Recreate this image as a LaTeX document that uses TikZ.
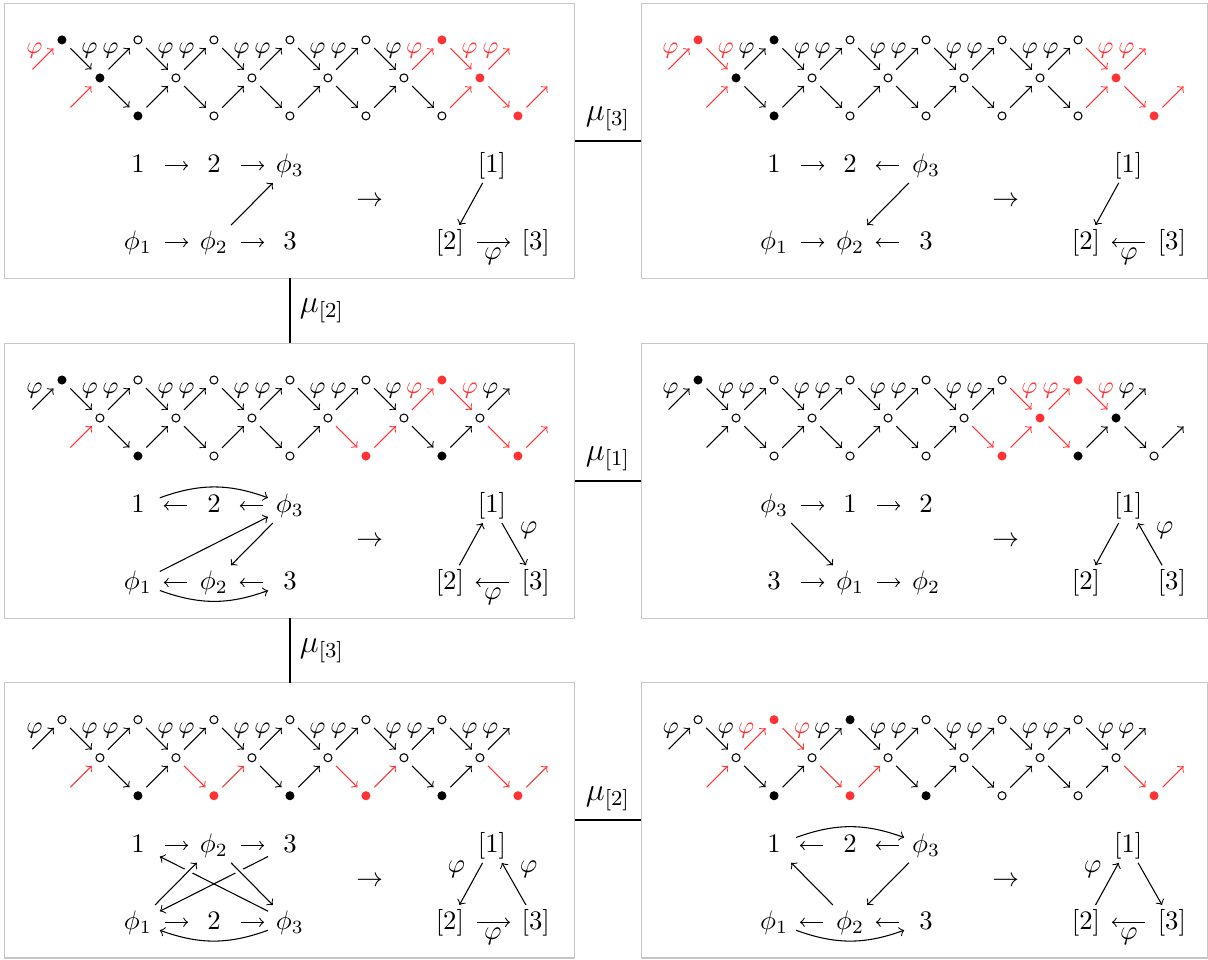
\documentclass[tikz,border=0pt]{standalone}
\usepackage{amssymb}
\usepackage{xcolor}
\usepackage{tikz}
\colorlet{hot}{red!80}

% AR-quiver: prefix, colour of the two entry arrows, vertex kinds k/top/mid/bot, arrow colours k/a/b/c/d
\newcommand{\arzigzag}[5]{%
  \node[vtx] (#1m-1) at (-1,-1) {};
  \node[vtx] (#1b-1) at (0,-2) {};
  \node[vtx] (#1t6) at (12,0) {};
  \node[vtx] (#1m6) at (13,-1) {};
  \foreach \k/\vt/\vm/\vb in {#4} {
    \node[\vt] (#1t\k) at (2*\k,0) {};
    \node[\vm] (#1m\k) at (2*\k+1,-1) {};
    \node[\vb] (#1b\k) at (2*\k+2,-2) {};
  }
  \draw[ar, #2] (#1m-1) -- node[lab] {$\varphi$} (#1t0);
  \draw[ar, #3] (#1b-1) -- (#1m0);
  \foreach \k/\ca/\cb/\cc/\cd in {#5} {
    \pgfmathtruncatemacro{\n}{\k+1}
    \draw[ar, \ca] (#1t\k) -- node[lab] {$\varphi$} (#1m\k);
    \draw[ar, \cb] (#1m\k) -- node[lab] {$\varphi$} (#1t\n);
    \draw[ar, \cc] (#1m\k) -- (#1b\k);
    \draw[ar, \cd] (#1b\k) -- (#1m\n);
  }
}

\begin{document}
\begin{tikzpicture}[
    >=to,
    x=0.5cm, y=0.5cm,
    panel/.style={draw=black!22, minimum height=3.62cm, inner sep=0pt, outer sep=0pt, anchor=north west},
    link/.style={thick},
    mlab/.style={font=\large},
    vtx/.style={circle, inner sep=0pt, minimum size=3.4pt},
    opn/.style={vtx, draw, minimum size=3pt},
    blk/.style={vtx, fill=black},
    rdd/.style={vtx, fill=hot},
    ar/.style={->, shorten <=2.6pt, shorten >=2.6pt},
    lab/.style={auto, font=\small, inner sep=0pt},
    cell/.style={minimum width=16pt, inner sep=2.5pt, text height=1.5ex, text depth=.25ex},
    hz/.style={->, shorten <=2pt, shorten >=1.5pt},
    cut/.style={preaction={draw=white, line width=3pt, -}},
    flab/.style={inner sep=2pt}
  ]
  \useasboundingbox (0,0) rectangle (31.79,-25.26);

  % Riquadri
  \node[panel, minimum width=7.5cm] (p1) at (0.13,-0.08) {};
  \node[panel, minimum width=7.45cm] (p2) at (16.87,-0.08) {};
  \node[panel, minimum width=7.5cm] (p3) at (0.13,-9.03) {};
  \node[panel, minimum width=7.45cm] (p4) at (16.87,-9.03) {};
  \node[panel, minimum width=7.5cm] (p5) at (0.13,-17.97) {};
  \node[panel, minimum width=7.45cm] (p6) at (16.87,-17.97) {};

  % Mutazioni
  \draw[link] (p1) -- node[above, mlab] {$\mu_{[3]}$} (p2);
  \draw[link] (p1) -- node[right, mlab] {$\mu_{[2]}$} (p3);
  \draw[link] (p3) -- node[above, mlab] {$\mu_{[1]}$} (p4);
  \draw[link] (p3) -- node[right, mlab] {$\mu_{[3]}$} (p5);
  \draw[link] (p5) -- node[above, mlab] {$\mu_{[2]}$} (p6);

  % Riquadro 1
  \begin{scope}[shift={(p1.north west)}, shift={(1.5,-0.97)}]
    \arzigzag{a-}{hot}{hot}
      {0/blk/blk/blk, 1/opn/opn/opn, 2/opn/opn/opn, 3/opn/opn/opn, 4/opn/opn/opn, 5/rdd/rdd/rdd}
      {0/black/black/black/black, 1/black/black/black/black, 2/black/black/black/black, 3/black/black/black/black, 4/black/hot/black/hot, 5/hot/hot/hot/hot}
    \node[cell] (a1) at (2,-3.31) {$1$};
    \node[cell] (a2) at (4,-3.31) {$2$};
    \node[cell] (af3) at (6,-3.31) {$\phi_3$};
    \node[cell] (af1) at (2,-5.33) {$\phi_1$};
    \node[cell] (af2) at (4,-5.33) {$\phi_2$};
    \node[cell] (a3) at (6,-5.33) {$3$};
    \draw[hz] (a1) -- (a2);
    \draw[hz] (a2) -- (af3);
    \draw[hz] (af1) -- (af2);
    \draw[hz] (af2) -- (a3);
    \draw[->] (af2) -- (af3);
    \node (a-to) at (8.1,-4.26) {$\to$};
    \node[cell] (ac1) at (11.32,-3.31) {$[1]$};
    \node[cell] (ac2) at (10.21,-5.33) {$[2]$};
    \node[cell] (ac3) at (12.47,-5.33) {$[3]$};
    \draw[->] (ac1) -- (ac2);
    \draw[hz] (ac2) -- node[below, flab] {$\varphi$} (ac3);
  \end{scope}

  % Riquadro 2
  \begin{scope}[shift={(p2.north west)}, shift={(1.5,-0.97)}]
    \arzigzag{b-}{hot}{hot}
      {0/rdd/blk/blk, 1/blk/opn/opn, 2/opn/opn/opn, 3/opn/opn/opn, 4/opn/opn/opn, 5/opn/rdd/rdd}
      {0/hot/black/black/black, 1/black/black/black/black, 2/black/black/black/black, 3/black/black/black/black, 4/black/black/black/hot, 5/hot/hot/hot/hot}
    \node[cell] (b1) at (2,-3.31) {$1$};
    \node[cell] (b2) at (4,-3.31) {$2$};
    \node[cell] (bf3) at (6,-3.31) {$\phi_3$};
    \node[cell] (bf1) at (2,-5.33) {$\phi_1$};
    \node[cell] (bf2) at (4,-5.33) {$\phi_2$};
    \node[cell] (b3) at (6,-5.33) {$3$};
    \draw[hz] (b1) -- (b2);
    \draw[hz] (bf3) -- (b2);
    \draw[hz] (bf1) -- (bf2);
    \draw[hz] (b3) -- (bf2);
    \draw[->] (bf3) -- (bf2);
    \node (b-to) at (8.1,-4.26) {$\to$};
    \node[cell] (bc1) at (11.32,-3.31) {$[1]$};
    \node[cell] (bc2) at (10.21,-5.33) {$[2]$};
    \node[cell] (bc3) at (12.47,-5.33) {$[3]$};
    \draw[->] (bc1) -- (bc2);
    \draw[hz] (bc3) -- node[below, flab] {$\varphi$} (bc2);
  \end{scope}

  % Riquadro 3
  \begin{scope}[shift={(p3.north west)}, shift={(1.5,-0.97)}]
    \arzigzag{c-}{black}{hot}
      {0/blk/opn/blk, 1/opn/opn/opn, 2/opn/opn/opn, 3/opn/opn/rdd, 4/opn/opn/blk, 5/rdd/opn/rdd}
      {0/black/black/black/black, 1/black/black/black/black, 2/black/black/black/black, 3/black/black/hot/hot, 4/black/hot/black/black, 5/hot/black/hot/hot}
    \node[cell] (c1) at (2,-3.31) {$1$};
    \node[cell] (c2) at (4,-3.31) {$2$};
    \node[cell] (cf3) at (6,-3.31) {$\phi_3$};
    \node[cell] (cf1) at (2,-5.33) {$\phi_1$};
    \node[cell] (cf2) at (4,-5.33) {$\phi_2$};
    \node[cell] (c3) at (6,-5.33) {$3$};
    \draw[hz] (c2) -- (c1);
    \draw[hz] (cf3) -- (c2);
    \draw[->] (c1) to[bend left=20] (cf3);
    \draw[hz] (cf2) -- (cf1);
    \draw[hz] (c3) -- (cf2);
    \draw[->] (cf1) to[bend right=20] (c3);
    \draw[->] (cf1) -- (cf3);
    \draw[->] (cf3) -- (cf2);
    \node (c-to) at (8.1,-4.26) {$\to$};
    \node[cell] (cc1) at (11.32,-3.31) {$[1]$};
    \node[cell] (cc2) at (10.21,-5.33) {$[2]$};
    \node[cell] (cc3) at (12.47,-5.33) {$[3]$};
    \draw[->] (cc2) -- (cc1);
    \draw[->] (cc1) -- node[auto, flab] {$\varphi$} (cc3);
    \draw[hz] (cc3) -- node[below, flab] {$\varphi$} (cc2);
  \end{scope}

  % Riquadro 4
  \begin{scope}[shift={(p4.north west)}, shift={(1.5,-0.97)}]
    \arzigzag{d-}{black}{black}
      {0/blk/opn/opn, 1/opn/opn/opn, 2/opn/opn/opn, 3/opn/opn/rdd, 4/opn/rdd/blk, 5/rdd/blk/opn}
      {0/black/black/black/black, 1/black/black/black/black, 2/black/black/black/black, 3/black/black/hot/hot, 4/hot/hot/hot/black, 5/hot/black/black/black}
    \node[cell] (df3) at (2,-3.31) {$\phi_3$};
    \node[cell] (d1) at (4,-3.31) {$1$};
    \node[cell] (d2) at (6,-3.31) {$2$};
    \node[cell] (d3) at (2,-5.33) {$3$};
    \node[cell] (df1) at (4,-5.33) {$\phi_1$};
    \node[cell] (df2) at (6,-5.33) {$\phi_2$};
    \draw[hz] (df3) -- (d1);
    \draw[hz] (d1) -- (d2);
    \draw[hz] (d3) -- (df1);
    \draw[hz] (df1) -- (df2);
    \draw[->] (df3) -- (df1);
    \node (d-to) at (8.1,-4.26) {$\to$};
    \node[cell] (dc1) at (11.32,-3.31) {$[1]$};
    \node[cell] (dc2) at (10.21,-5.33) {$[2]$};
    \node[cell] (dc3) at (12.47,-5.33) {$[3]$};
    \draw[->] (dc1) -- (dc2);
    \draw[->] (dc3) -- node[auto, swap, flab] {$\varphi$} (dc1);
  \end{scope}

  % Riquadro 5
  \begin{scope}[shift={(p5.north west)}, shift={(1.5,-0.97)}]
    \arzigzag{e-}{black}{hot}
      {0/opn/opn/blk, 1/opn/opn/rdd, 2/opn/opn/blk, 3/opn/opn/rdd, 4/opn/opn/blk, 5/opn/opn/rdd}
      {0/black/black/black/black, 1/black/black/hot/hot, 2/black/black/black/black, 3/black/black/hot/hot, 4/black/black/black/black, 5/black/black/hot/hot}
    \node[cell] (e1) at (2,-3.31) {$1$};
    \node[cell] (ef2) at (4,-3.31) {$\phi_2$};
    \node[cell] (e3) at (6,-3.31) {$3$};
    \node[cell] (ef1) at (2,-5.33) {$\phi_1$};
    \node[cell] (e2) at (4,-5.33) {$2$};
    \node[cell] (ef3) at (6,-5.33) {$\phi_3$};
    \draw[hz] (e1) -- (ef2);
    \draw[hz] (ef2) -- (e3);
    \draw[hz] (ef1) -- (e2);
    \draw[hz] (e2) -- (ef3);
    \draw[->] (ef3) to[bend left=20] (ef1);
    \draw[->] (e3) -- (ef1);
    \draw[->] (ef3) -- (e1);
    \draw[->, cut] (ef1) -- (ef2);
    \draw[->, cut] (ef2) -- (ef3);
    \node (e-to) at (8.1,-4.26) {$\to$};
    \node[cell] (ec1) at (11.32,-3.31) {$[1]$};
    \node[cell] (ec2) at (10.21,-5.33) {$[2]$};
    \node[cell] (ec3) at (12.47,-5.33) {$[3]$};
    \draw[->] (ec1) -- node[auto, swap, flab] {$\varphi$} (ec2);
    \draw[->] (ec3) -- node[auto, swap, flab] {$\varphi$} (ec1);
    \draw[hz] (ec2) -- node[below, flab] {$\varphi$} (ec3);
  \end{scope}

  % Riquadro 6
  \begin{scope}[shift={(p6.north west)}, shift={(1.5,-0.97)}]
    \arzigzag{f-}{black}{hot}
      {0/opn/opn/blk, 1/rdd/opn/rdd, 2/blk/opn/blk, 3/opn/opn/opn, 4/opn/opn/opn, 5/opn/opn/rdd}
      {0/black/hot/black/black, 1/hot/black/hot/hot, 2/black/black/black/black, 3/black/black/black/black, 4/black/black/black/black, 5/black/black/hot/hot}
    \node[cell] (f1) at (2,-3.31) {$1$};
    \node[cell] (f2) at (4,-3.31) {$2$};
    \node[cell] (ff3) at (6,-3.31) {$\phi_3$};
    \node[cell] (ff1) at (2,-5.33) {$\phi_1$};
    \node[cell] (ff2) at (4,-5.33) {$\phi_2$};
    \node[cell] (f3) at (6,-5.33) {$3$};
    \draw[hz] (f2) -- (f1);
    \draw[hz] (ff3) -- (f2);
    \draw[->] (f1) to[bend left=20] (ff3);
    \draw[hz] (ff2) -- (ff1);
    \draw[hz] (f3) -- (ff2);
    \draw[->] (ff1) to[bend right=20] (f3);
    \draw[->] (ff3) -- (ff2);
    \draw[->] (ff2) -- (f1);
    \node (f-to) at (8.1,-4.26) {$\to$};
    \node[cell] (fc1) at (11.32,-3.31) {$[1]$};
    \node[cell] (fc2) at (10.21,-5.33) {$[2]$};
    \node[cell] (fc3) at (12.47,-5.33) {$[3]$};
    \draw[->] (fc2) -- node[auto, flab] {$\varphi$} (fc1);
    \draw[->] (fc1) -- (fc3);
    \draw[hz] (fc3) -- node[below, flab] {$\varphi$} (fc2);
  \end{scope}
\end{tikzpicture}
\end{document}
